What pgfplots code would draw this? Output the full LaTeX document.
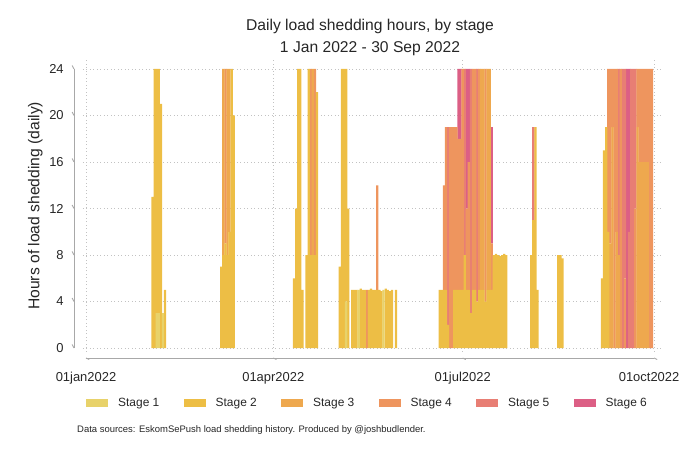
\documentclass[border=0pt]{standalone}
\usepackage{pgfplots}
\pgfplotsset{compat=1.18}
\usepackage{pgfplotstable}
\usepackage{fontspec}
\setmainfont{Liberation Sans}

\definecolor{sA}{HTML}{E8D26A}
\definecolor{sB}{HTML}{EDBE45}
\definecolor{sC}{HTML}{EEA84E}
\definecolor{sD}{HTML}{EE955E}
\definecolor{sE}{HTML}{E87E74}
\definecolor{sF}{HTML}{DC5F85}
\definecolor{axgray}{HTML}{A8A8A8}
\definecolor{txt}{HTML}{262626}

\pgfplotsset{lgbox/.style={legend image code/.code={\fill[##1] (0bp,-4bp) rectangle (22bp,4bp);}}}

% daily hours by stage (day 0 = 1 Jan 2022)
\pgfplotstableread{
d s1 s2 s3 s4 s5 s6
32 0 13 0 0 0 0
33 0 24 0 0 0 0
34 3 21 0 0 0 0
35 3 21 0 0 0 0
36 0 21 0 0 0 0
37 3 0 0 0 0 0
38 0 5 0 0 0 0
65 0 7 0 0 0 0
66 0 8 16 0 0 0
67 0 9 0 15 0 0
68 0 8 16 0 0 0
69 0 10 14 0 0 0
70 0 24 0 0 0 0
71 0 20 0 0 0 0
100 0 6 0 0 0 0
101 0 12 0 0 0 0
102 0 24 0 0 0 0
103 0 24 0 0 0 0
104 0 5 0 0 0 0
106 0 8 0 0 0 0
107 0 24 0 0 0 0
108 0 8 0 16 0 0
109 0 8 16 0 0 0
110 0 8 0 16 0 0
111 0 22 0 0 0 0
122 0 7 0 0 0 0
123 0 24 0 0 0 0
124 0 24 0 0 0 0
125 4 20 0 0 0 0
126 0 12 0 0 0 0
128 0 5 0 0 0 0
129 0 5 0 0 0 0
130 0 5 0 0 0 0
131 5 0 0 0 0 0
132 0 5.1 0 0 0 0
133 0 5 0 0 0 0
134 0 5 0 0 0 0
135 0 0 0 5 0 0
136 0 5 0 0 0 0
137 0 5.1 0 0 0 0
138 0 5 0 0 0 0
139 0 5 0 0 0 0
140 0 5 0 9 0 0
141 0 5 0 0 0 0
142 0 4.9 0 0 0 0
143 5 0 0 0 0 0
144 0 5.1 0 0 0 0
145 0 5 0 0 0 0
146 0 4.9 0 0 0 0
147 0 5 0 0 0 0
149 0 5 0 0 0 0
170 0 5 0 0 0 0
171 0 5 0 0 0 0
172 0 5 0 9 0 0
173 0 5 0 14 0 0
174 0 2 0 0 17 0
175 0 0 0 19 0 0
176 0 0 0 19 0 0
177 0 5 0 14 0 0
178 0 5 0 14 0 0
179 0 5 0 13 0 6
180 0 5 0 13 0 6
181 0 5 0 19 0 0
182 0 8 0 0 16 0
183 0 5 0 7 0 12
184 0 5 0 11 0 8
185 0 3 0 0 21 0
186 0 5 0 19 0 0
187 0 5 0 19 0 0
188 0 4 0 0 20 0
189 0 5 0 19 0 0
190 0 5 19 0 0 0
191 0 5 19 0 0 0
192 0 4 0 20 0 0
193 0 5 19 0 0 0
194 0 5 19 0 0 0
195 0 5 0 4 0 10
196 0 8 0 0 0 0
197 0 8.1 0 0 0 0
198 0 8 0 0 0 0
199 0 7.9 0 0 0 0
200 0 8 0 0 0 0
201 0 8.1 0 0 0 0
202 0 8 0 0 0 0
214 0 8 0 0 0 0
215 0 11 0 0 8 0
216 0 19 0 0 0 0
217 0 5 0 0 0 0
227 0 8 0 0 0 0
228 0 8 0 0 0 0
229 0 7.7 0 0 0 0
248 0 6 0 0 0 0
249 0 17 0 0 0 0
250 0 19 0 0 0 0
251 0 10 0 14 0 0
252 0 0 9 15 0 0
253 0 0 19 5 0 0
254 0 0 0 24 0 0
255 0 0 10 14 0 0
256 0 0 8 0 16 0
257 0 0 0 24 0 0
258 0 0 0 0 24 0
259 0 0 0 6 18 0
260 0 0 0 0 0 24
261 0 0 0 0 10 14
262 0 0 0 0 24 0
263 0 0 0 0 24 0
264 0 0 0 12 12 0
265 0 0 19 5 0 0
266 0 0 16 8 0 0
267 0 0 16 8 0 0
268 0 0 16 8 0 0
269 0 0 16 8 0 0
270 0 0 16 8 0 0
271 0 0 0 24 0 0
272 0 0 0 24 0 0
}\loadshed

\begin{document}
\begin{tikzpicture}
\useasboundingbox (-82.9bp,-101.5bp) rectangle (597.1bp,351.5bp);
\begin{axis}[
  at={(0,0)}, anchor=south west,
  scale only axis, width=579.5bp, height=291.8bp,
  xmin=-1.5, xmax=277, ymin=-0.3, ymax=24.8,
  axis line style={draw=none},
  ybar stacked, bar width=2.3bp,
  xtick={0,90,181},
  xticklabels={01jan2022,01apr2022,01jul2022},
  extra x ticks={273},
  extra x tick labels={01oct2022},
  extra x tick style={xticklabel style={xshift=-5bp}},
  ytick={0,4,8,12,16,20,24},
  major tick length=0pt,
  grid=major,
  grid style={axgray!70, line width=0.6bp, dash pattern=on 0.9bp off 2.6bp},
  /pgf/number format/assume math mode=true,
  tick label style={font=\fontsize{13}{15}\selectfont, text=txt},
  xticklabel style={anchor=base, inner sep=0pt, yshift=-30bp},
  yticklabel style={anchor=east, inner sep=0pt, xshift=-19bp},
  clip=false,
  legend columns=6,
  legend style={at={(axis description cs:0.00535,-0.1765)}, anchor=west,
    draw=none, fill=none, inner sep=0pt, font=\fontsize{12}{14}\selectfont, text=txt,
    /tikz/every odd column/.append style={column sep=8bp},
    /tikz/every even column/.append style={column sep=22.3bp}},
]
\addplot[fill=sA, draw=none, lgbox] table[x=d, y=s1] {\loadshed};
\addplot[fill=sB, draw=none, lgbox] table[x=d, y=s2] {\loadshed};
\addplot[fill=sC, draw=none, lgbox] table[x=d, y=s3] {\loadshed};
\addplot[fill=sD, draw=none, lgbox] table[x=d, y=s4] {\loadshed};
\addplot[fill=sE, draw=none, lgbox] table[x=d, y=s5] {\loadshed};
\addplot[fill=sF, draw=none, lgbox] table[x=d, y=s6] {\loadshed};
\legend{Stage 1, Stage 2, Stage 3, Stage 4, Stage 5, Stage 6}
% axis lines, Stata style (offset from plot region)
\draw[axgray, line width=0.9bp] (axis cs:0,-0.86) -- (axis cs:273,-0.86);
\draw[axgray, line width=0.9bp] (axis cs:0,-0.86) -- ++(0,-5bp);
\draw[axgray, line width=0.9bp] (axis cs:90,-0.86) -- ++(0,-5bp);
\draw[axgray, line width=0.9bp] (axis cs:181,-0.86) -- ++(0,-5bp);
\draw[axgray, line width=0.9bp] (axis cs:273,-0.86) -- ++(0,-5bp);
\draw[axgray, line width=0.9bp] (axis cs:-5.77,0) -- (axis cs:-5.77,24);
\draw[axgray, line width=0.9bp] (axis cs:-5.77,0) -- ++(-5bp,0);
\draw[axgray, line width=0.9bp] (axis cs:-5.77,4) -- ++(-5bp,0);
\draw[axgray, line width=0.9bp] (axis cs:-5.77,8) -- ++(-5bp,0);
\draw[axgray, line width=0.9bp] (axis cs:-5.77,12) -- ++(-5bp,0);
\draw[axgray, line width=0.9bp] (axis cs:-5.77,16) -- ++(-5bp,0);
\draw[axgray, line width=0.9bp] (axis cs:-5.77,20) -- ++(-5bp,0);
\draw[axgray, line width=0.9bp] (axis cs:-5.77,24) -- ++(-5bp,0);
\end{axis}
\node[anchor=base, font=\fontsize{15.7}{18}\selectfont, text=txt] at (287.1bp,320.5bp) {Daily load shedding hours, by stage};
\node[anchor=base, font=\fontsize{15.7}{18}\selectfont, text=txt] at (287.1bp,298.5bp) {1 Jan 2022 - 30 Sep 2022};
\node[rotate=90, font=\fontsize{15.7}{18}\selectfont, text=txt] at (-47.5bp,145.7bp) {Hours of load shedding (daily)};
\node[anchor=base west, inner sep=0pt, font=\fontsize{9.5}{11}\selectfont, text=txt] at (-5.9bp,-80.5bp) {Data sources: EskomSePush load shedding history. Produced by @joshbudlender.};
\end{tikzpicture}
\end{document}
